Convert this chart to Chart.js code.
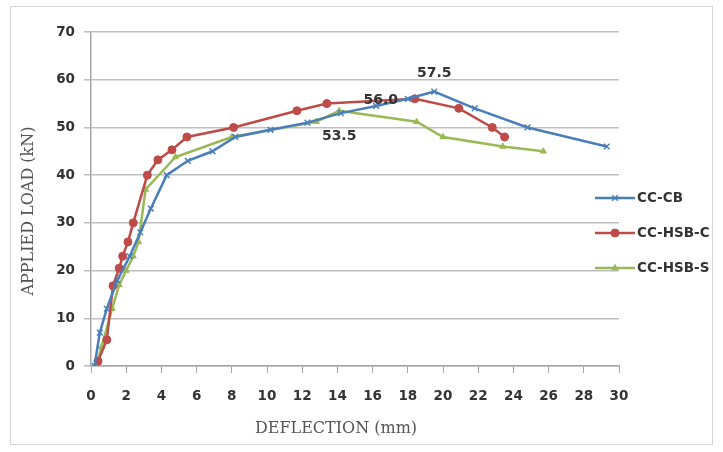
<!DOCTYPE html>
<html lang="en">
<head>
  <meta charset="UTF-8" />
  <title>Applied load vs deflection</title>
  <script src="https://cdn.jsdelivr.net/npm/chart.js"></script>
  <style>
    html, body { margin: 0; padding: 0; background: #fff; }
    #wrap { position: relative; width: 723px; height: 452px; }
  </style>
</head>
<body>
  <div id="wrap"><canvas id="loadChart" width="723" height="452"></canvas></div>

  <script>
    // data (deflection in mm, load in kN)
    const cbX = [0.2, 0.5, 0.9, 1.5, 2.2, 2.8, 3.4, 4.3, 5.5, 6.9, 8.2, 10.2, 12.3, 14.2, 16.2, 18.0, 19.5, 21.8, 24.8, 29.3];
    const cbY = [0, 7, 12, 18, 23, 28, 33, 40, 43, 45, 48, 49.5, 51, 53, 54.5, 56, 57.5, 54, 50, 46];

    const hsbcX = [0.4, 0.9, 1.25, 1.6, 1.8, 2.1, 2.4, 3.2, 3.8, 4.6, 5.45, 8.1, 11.7, 13.4, 18.4, 20.9, 22.8, 23.5];
    const hsbcY = [1, 5.5, 16.8, 20.5, 23, 26, 30, 40, 43.2, 45.3, 48, 50, 53.5, 55, 56, 54, 50, 48];

    const hsbsX = [0.3, 0.6, 1.2, 1.6, 2.0, 2.4, 2.7, 3.1, 4.8, 8.0, 12.8, 14.1, 18.5, 20.0, 23.4, 25.7];
    const hsbsY = [0, 4, 12, 17, 20, 23, 26, 37, 43.8, 48, 51.2, 53.5, 51.2, 48, 46, 45];

    const seriesNames = ['CC-CB', 'CC-HSB-C', 'CC-HSB-S'];
    const xTicks = [0, 30, 2];   // min, max, step
    const yTicks = [0, 70, 10];
    const xTitle = 'DEFLECTION (mm)';
    const yTitle = 'APPLIED LOAD (kN)';

    // peak labels: series index, point index, text
    const peakLabels = [[0, 16, '57.5'], [1, 14, '56.0'], [2, 11, '53.5']];

    const toPts = (xs, ys) => xs.map((x, i) => ({ x: x, y: ys[i] }));

    const colors = ['#4a7ebb', '#be4b48', '#98b954'];
    const markers = ['crossRot', 'circle', 'triangle'];
    const radii = [4, 4, 3.5];

    const datasets = [toPts(cbX, cbY), toPts(hsbcX, hsbcY), toPts(hsbsX, hsbsY)].map((d, i) => ({
      label: seriesNames[i],
      data: d,
      showLine: true,
      borderColor: colors[i],
      backgroundColor: colors[i],
      borderWidth: 2.5,
      pointStyle: markers[i],
      pointRadius: radii[i],
      pointBorderWidth: i === 0 ? 1.5 : 1,
      pointBorderColor: colors[i],
      pointBackgroundColor: colors[i],
      tension: 0
    }));

    const tickFont = { family: 'DejaVu Sans', size: 13.5, weight: 'bold' };

    const extras = {
      id: 'extras',
      beforeDraw(chart) {
        const c = chart.ctx;
        c.save();
        c.fillStyle = '#fff';
        c.fillRect(0, 0, chart.width, chart.height);
        c.strokeStyle = '#d4d4d4';
        c.lineWidth = 1;
        c.strokeRect(10.5, 6.5, 702, 438);
        c.restore();
      },
      afterDatasetsDraw(chart) {
        const c = chart.ctx;
        c.save();
        c.font = 'bold 14px "DejaVu Sans"';
        c.fillStyle = '#333';
        c.textAlign = 'center';
        c.textBaseline = 'middle';
        const offs = [[0, -18], [-34, 2], [0, 26]];
        peakLabels.forEach((p, k) => {
          const pt = chart.getDatasetMeta(p[0]).data[p[1]];
          c.fillText(p[2], pt.x + offs[k][0], pt.y + offs[k][1]);
        });
        c.restore();
      },
      afterDraw(chart) {
        const c = chart.ctx;
        c.save();
        // axis titles
        c.fillStyle = '#555';
        c.font = '16px "DejaVu Serif"';
        c.textAlign = 'center';
        c.textBaseline = 'middle';
        c.fillText(xTitle, 336, 429);
        c.translate(29, 211);
        c.rotate(-Math.PI / 2);
        c.fillText(yTitle, 0, 0);
        c.restore();

        // legend, spreadsheet style (line + marker + name)
        c.save();
        chart.data.datasets.forEach((ds, i) => {
          const y = 198 + i * 35;
          c.strokeStyle = ds.borderColor;
          c.lineWidth = 2.5;
          c.beginPath();
          c.moveTo(595, y);
          c.lineTo(635, y);
          c.stroke();
          c.fillStyle = ds.backgroundColor;
          c.lineWidth = ds.pointBorderWidth;
          Chart.helpers.drawPoint(c, { pointStyle: ds.pointStyle, radius: ds.pointRadius, rotation: 0, borderWidth: ds.pointBorderWidth }, 615, y);
          c.fillStyle = '#333';
          c.font = 'bold 13.5px "DejaVu Sans"';
          c.textAlign = 'left';
          c.textBaseline = 'middle';
          c.fillText(ds.label, 637, y);
        });
        c.restore();
      }
    };

    new Chart(document.getElementById('loadChart'), {
      type: 'scatter',
      data: { datasets: datasets },
      options: {
        responsive: false,
        animation: false,
        layout: { padding: { left: 0, right: 104, top: 32, bottom: 0 } },
        plugins: { legend: { display: false }, tooltip: { enabled: false } },
        scales: {
          x: {
            type: 'linear',
            min: xTicks[0], max: xTicks[1],
            ticks: { stepSize: xTicks[2], color: '#333', font: tickFont, padding: 15 },
            grid: { drawOnChartArea: false, drawTicks: true, tickLength: 7, color: '#a6a6a6' },
            border: { color: '#a6a6a6', width: 1.5 },
            afterFit(s) { s.height = 86; }
          },
          y: {
            min: yTicks[0], max: yTicks[1],
            ticks: { stepSize: yTicks[2], color: '#333', font: tickFont, padding: 9 },
            grid: { color: '#bfbfbf', lineWidth: 1.5, drawTicks: true, tickLength: 7 },
            border: { color: '#a6a6a6', width: 1.5 },
            afterFit(s) { s.width = 91; }
          }
        }
      },
      plugins: [extras]
    });
  </script>
</body>
</html>
